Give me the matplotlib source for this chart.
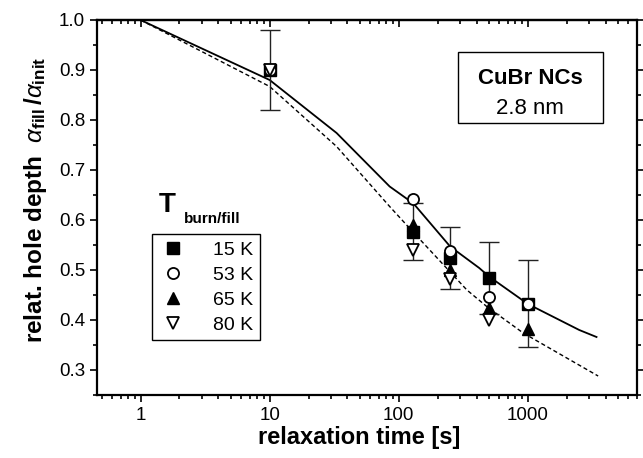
import numpy as np
import matplotlib
matplotlib.use("Agg")
import matplotlib.pyplot as plt
from matplotlib.ticker import LogLocator, MultipleLocator, NullFormatter, FormatStrFormatter
from matplotlib.patches import Rectangle

plt.rcParams["font.family"] = ["Liberation Sans", "DejaVu Sans"]
plt.rcParams["mathtext.fontset"] = "custom"
plt.rcParams["mathtext.rm"] = "Liberation Sans:bold"
plt.rcParams["mathtext.it"] = "Liberation Sans:italic"

# values
t_15K = [10, 130, 250, 500, 1000]
depth_15K = [0.900, 0.577, 0.524, 0.485, 0.433]
err_15K = [0.080, 0.057, 0.062, 0.072, 0.087]
t_53K = [10, 130, 250, 500, 1000]
depth_53K = [0.900, 0.643, 0.538, 0.447, 0.432]
t_65K = [130, 250, 500, 1000]
depth_65K = [0.590, 0.500, 0.424, 0.383]
t_80K = [10, 130, 250, 500]
depth_80K = [0.900, 0.540, 0.482, 0.400]

t_fit_solid = [1, 10, 33, 85, 130, 250, 420, 500, 1000, 2500, 3400]
fit_solid = [1.0, 0.880, 0.774, 0.667, 0.633, 0.547, 0.504, 0.487, 0.432, 0.380, 0.366]
t_fit_dashed = [1, 10, 33, 85, 130, 337, 480, 920, 2000, 3500]
fit_dashed = [1.0, 0.867, 0.747, 0.627, 0.575, 0.460, 0.427, 0.374, 0.324, 0.288]

x_ticks = [1, 10, 100, 1000]
x_ticklabels = ["1", "10", "100", "1000"]
legend_labels = ["15 K", "53 K", "65 K", "80 K"]


fig = plt.figure(figsize=(6.43, 4.58), dpi=100)
ax = fig.add_axes([97 / 643, 1 - 395 / 458, 540 / 643, 375 / 458])

ax.plot(t_fit_solid, fit_solid, color="black", lw=1.3, zorder=2)
ax.plot(t_fit_dashed, fit_dashed, color="black", lw=1.0, ls=(0, (3, 2)), zorder=2)

ax.errorbar(t_15K, depth_15K, yerr=err_15K, fmt="none", ecolor="#222222",
            elinewidth=1.0, capsize=7, capthick=1.0, zorder=3)
h15, = ax.plot(t_15K, depth_15K, "s", ms=8, mfc="black", mec="black", zorder=4)
h65, = ax.plot(t_65K, depth_65K, "^", ms=9, mfc="black", mec="black", zorder=5)
h53, = ax.plot(t_53K, depth_53K, "o", ms=8, mfc="white", mec="black", mew=1.3, zorder=6)
h80, = ax.plot(t_80K, depth_80K, "v", ms=9, mfc="white", mec="black", mew=1.3, zorder=7)

ax.set_xscale("log")
ax.set_xlim(0.46, 7000)
ax.set_ylim(0.25, 1.0)

ax.set_xticks(x_ticks)
ax.set_xticklabels(x_ticklabels)
ax.xaxis.set_minor_locator(LogLocator(base=10, subs=np.arange(2, 10)))
ax.xaxis.set_minor_formatter(NullFormatter())
ax.yaxis.set_major_locator(MultipleLocator(0.1))
ax.yaxis.set_minor_locator(MultipleLocator(0.05))
ax.yaxis.set_major_formatter(FormatStrFormatter("%.1f"))

ax.tick_params(which="both", direction="out", width=1.2, labelsize=13.5, right=True)
ax.tick_params(which="major", length=5)
ax.tick_params(which="minor", length=3)

top = ax.secondary_xaxis("top")
top.set_xticks(x_ticks)
top.xaxis.set_minor_locator(LogLocator(base=10, subs=np.arange(2, 10)))
top.xaxis.set_minor_formatter(NullFormatter())
top.tick_params(which="both", direction="in", width=1.2, labeltop=False)
top.tick_params(which="major", length=5)
top.tick_params(which="minor", length=3)
top.spines["top"].set_linewidth(1.6)

for s in ax.spines.values():
    s.set_linewidth(1.6)

ax.set_xlabel("relaxation time [s]", fontsize=17, fontweight="bold", va="top")
ax.xaxis.set_label_coords(0.485, -0.082)
ax.set_ylabel(r"relat. hole depth  $\alpha_{\mathrm{fill}}\,/\alpha_{\mathrm{init}}$",
              fontsize=17.5, fontweight="bold")
ax.yaxis.set_label_coords(-0.088, 0.52)

# sample box
ax.add_patch(Rectangle((0.668, 0.726), 0.2685, 0.1885, transform=ax.transAxes,
                       fill=False, edgecolor="black", lw=1.0, zorder=8))
ax.text(0.802, 0.845, "CuBr NCs", transform=ax.transAxes, ha="center", va="center",
        fontsize=16, fontweight="bold")
ax.text(0.802, 0.765, "2.8 nm", transform=ax.transAxes, ha="center", va="center",
        fontsize=16)

# legend with its title
ax.text(0.1296, 0.507, "T", transform=ax.transAxes, ha="center", va="center",
        fontsize=20, fontweight="bold")
ax.text(0.161, 0.469, "burn/fill", transform=ax.transAxes, ha="left", va="center",
        fontsize=11, fontweight="bold")
leg = ax.legend([h15, h53, h65, h80], legend_labels, loc="upper left",
                bbox_to_anchor=(0.102, 0.429), borderaxespad=0, frameon=True,
                fancybox=False, edgecolor="black", framealpha=1, fontsize=14,
                handlelength=1.5, handletextpad=1.3, labelspacing=0.38, borderpad=0.35)
leg.get_frame().set_linewidth(1.0)

fig.savefig("out.png", dpi=100)
